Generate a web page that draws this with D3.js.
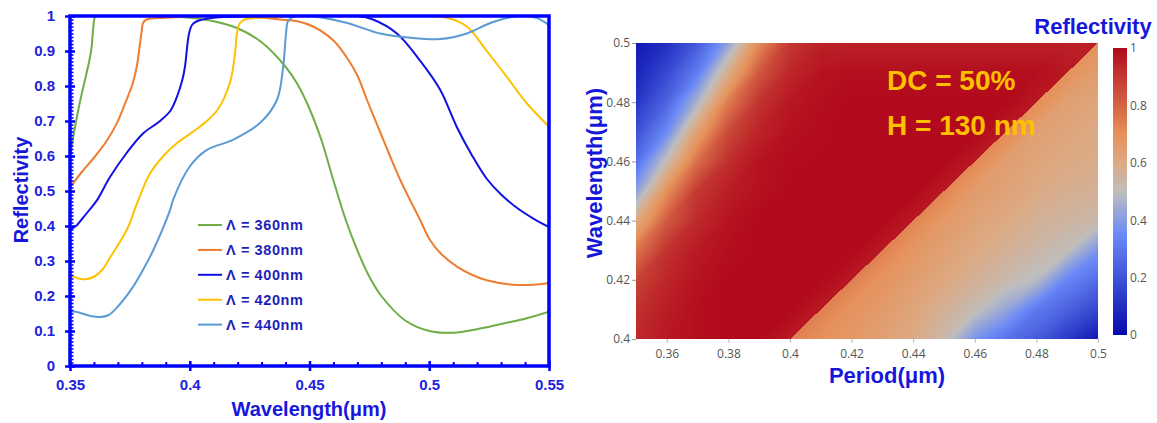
<!DOCTYPE html>
<html lang="en">
  <head>
    <meta charset="utf-8" />
    <title>Reflectivity spectra and reflectivity map</title>
    <script src="https://d3js.org/d3.v7.min.js"></script>
    <style>
      body {
        margin: 0;
        background: #fff;
      }

      svg {
        display: block;
        font-family: Arial, "Liberation Sans", sans-serif;
      }

      .blue-lbl text {
        font-family: Arial, "Liberation Sans", sans-serif;
        font-weight: bold;
        font-size: 15px;
        fill: #2222dd;
      }

      .gray-lbl text {
        font-family: "Open Sans", sans-serif;
        font-size: 12px;
        fill: #555;
      }

      .title {
        font-weight: bold;
        fill: #1717dc;
      }
    </style>
  </head>

  <body>
    <svg id="chart" width="1157" height="423"></svg>

    <script>
      // ---------- left chart: reflectivity spectra ----------
      const wlTicks = [0.35, 0.4, 0.45, 0.5, 0.55];
      const reflTicks = [0, 0.1, 0.2, 0.3, 0.4, 0.5, 0.6, 0.7, 0.8, 0.9, 1];

      const periodLabels = ["Λ = 360nm", "Λ = 380nm", "Λ = 400nm", "Λ = 420nm", "Λ = 440nm"];

      // [wavelength (um), reflectivity]
      const curve360 = [
        [0.35, 0.6], [0.352, 0.68], [0.354, 0.75], [0.356, 0.81], [0.358, 0.87], [0.359, 0.91],
        [0.3595, 0.95], [0.36, 0.985], [0.3605, 0.998], [0.362, 1.0], [0.39, 1.0], [0.4, 0.995],
        [0.41, 0.985], [0.42, 0.965], [0.43, 0.925], [0.44, 0.855], [0.445, 0.805], [0.45, 0.735],
        [0.455, 0.645], [0.46, 0.53], [0.465, 0.42], [0.47, 0.33], [0.475, 0.255], [0.48, 0.2],
        [0.49, 0.13], [0.5, 0.1], [0.51, 0.095], [0.52, 0.105], [0.53, 0.12], [0.54, 0.135],
        [0.55, 0.155],
      ];
      const curve380 = [
        [0.35, 0.51], [0.355, 0.555], [0.36, 0.595], [0.3625, 0.617], [0.365, 0.64], [0.3696, 0.694],
        [0.373, 0.75], [0.3763, 0.81], [0.378, 0.86], [0.3792, 0.92], [0.38, 0.96], [0.3805, 0.98],
        [0.382, 0.99], [0.39, 0.995], [0.41, 1.0], [0.43, 0.995], [0.4377, 0.99], [0.445, 0.985],
        [0.4515, 0.97], [0.46, 0.93], [0.4657, 0.88], [0.47, 0.83], [0.474, 0.76], [0.48, 0.66],
        [0.4836, 0.6], [0.488, 0.53], [0.492, 0.474], [0.496, 0.42], [0.5003, 0.36], [0.505, 0.32],
        [0.5116, 0.284], [0.518, 0.26], [0.524, 0.245], [0.535, 0.232], [0.545, 0.233], [0.55, 0.237],
      ];
      const curve400 = [
        [0.35, 0.39], [0.3525, 0.4], [0.355, 0.42], [0.358, 0.445], [0.3613, 0.474], [0.3667, 0.54],
        [0.3738, 0.61], [0.3806, 0.665], [0.3876, 0.7], [0.392, 0.73], [0.3947, 0.77], [0.397, 0.82],
        [0.398, 0.855], [0.3997, 0.95], [0.401, 0.975], [0.403, 0.985], [0.41, 0.995], [0.43, 1.0],
        [0.47, 1.0], [0.4765, 0.99], [0.4865, 0.95], [0.496, 0.874], [0.5045, 0.79], [0.5115, 0.683],
        [0.518, 0.6], [0.524, 0.535], [0.53, 0.49], [0.537, 0.45], [0.5433, 0.422], [0.55, 0.397],
      ];
      const curve420 = [
        [0.35, 0.26], [0.3535, 0.25], [0.3565, 0.248], [0.36, 0.255], [0.3635, 0.275], [0.3667, 0.31],
        [0.3738, 0.39], [0.378, 0.465], [0.3834, 0.55], [0.389, 0.6], [0.3947, 0.637], [0.4043, 0.684],
        [0.4114, 0.73], [0.4168, 0.81], [0.419, 0.9], [0.4197, 0.95], [0.421, 0.98], [0.423, 0.99],
        [0.43, 0.995], [0.45, 1.0], [0.5, 1.0], [0.5074, 0.995], [0.5157, 0.97], [0.524, 0.9],
        [0.5324, 0.826], [0.5408, 0.75], [0.55, 0.684],
      ];
      const curve440 = [
        [0.35, 0.155], [0.3525, 0.155], [0.355, 0.15], [0.3585, 0.143], [0.3625, 0.14], [0.366, 0.145],
        [0.37, 0.17], [0.3763, 0.226], [0.3805, 0.275], [0.3847, 0.33], [0.3918, 0.446], [0.393, 0.474],
        [0.4, 0.57], [0.407, 0.617], [0.418, 0.646], [0.4293, 0.694], [0.4364, 0.76], [0.439, 0.855],
        [0.4402, 0.95], [0.441, 0.985], [0.443, 0.997], [0.45, 1.0], [0.4657, 0.98], [0.4794, 0.95],
        [0.4932, 0.937], [0.5045, 0.934], [0.5157, 0.95], [0.5266, 0.983], [0.538, 1.0], [0.545, 0.994],
        [0.55, 0.974],
      ];

      // ---------- right chart: reflectivity map ----------
      const periods = [0.35, 0.36, 0.37, 0.38, 0.39, 0.4, 0.41, 0.42, 0.43, 0.44, 0.45, 0.46, 0.47, 0.48, 0.49, 0.5];
      const wavelengths = [0.4, 0.41, 0.42, 0.43, 0.44, 0.45, 0.46, 0.47, 0.48, 0.49, 0.5];
      const periodTicks = [0.36, 0.38, 0.4, 0.42, 0.44, 0.46, 0.48, 0.5];
      const wavelengthTicks = [0.4, 0.42, 0.44, 0.46, 0.48, 0.5];
      const colorbarTicks = [0, 0.2, 0.4, 0.6, 0.8, 1];
      const annotations = ["DC = 50%", "H = 130 nm"];

      // reflectivity, one row per wavelength, one column per period
      // (points on the line wavelength = period hold the value seen just above it)
      const reflGrid = [
        [0.93, 0.97, 0.99, 1.0, 1.0, 0.97, 0.7, 0.67, 0.64, 0.6, 0.53, 0.38, 0.29, 0.22, 0.13, 0.04],
        [0.91, 0.96, 0.99, 1.0, 1.0, 1.0, 0.97, 0.69, 0.66, 0.62, 0.57, 0.52, 0.43, 0.31, 0.24, 0.16],
        [0.87, 0.94, 0.98, 1.0, 1.0, 1.0, 1.0, 0.97, 0.69, 0.65, 0.61, 0.57, 0.53, 0.49, 0.34, 0.27],
        [0.76, 0.91, 0.965, 0.99, 1.0, 1.0, 1.0, 1.0, 0.97, 0.68, 0.64, 0.6, 0.57, 0.54, 0.51, 0.38],
        [0.6, 0.82, 0.93, 0.98, 1.0, 1.0, 1.0, 1.0, 1.0, 0.97, 0.67, 0.63, 0.6, 0.57, 0.55, 0.53],
        [0.41, 0.7, 0.9, 0.955, 0.985, 1.0, 1.0, 1.0, 1.0, 1.0, 0.97, 0.66, 0.63, 0.6, 0.58, 0.57],
        [0.28, 0.52, 0.78, 0.92, 0.98, 0.995, 1.0, 1.0, 1.0, 1.0, 1.0, 0.97, 0.65, 0.62, 0.6, 0.59],
        [0.19, 0.355, 0.645, 0.86, 0.945, 0.985, 0.995, 1.0, 1.0, 1.0, 1.0, 1.0, 0.97, 0.64, 0.62, 0.6],
        [0.12, 0.25, 0.47, 0.75, 0.91, 0.97, 0.99, 1.0, 1.0, 1.0, 1.0, 1.0, 1.0, 0.97, 0.64, 0.62],
        [0.075, 0.17, 0.32, 0.59, 0.83, 0.935, 0.98, 0.99, 0.99, 0.99, 0.99, 0.99, 0.99, 0.99, 0.97, 0.65],
        [0.04, 0.1, 0.22, 0.42, 0.71, 0.9, 0.95, 0.95, 0.95, 0.95, 0.95, 0.95, 0.95, 0.95, 0.95, 0.95],
      ];
      // value just below the wavelength = period line, one per wavelength row
      const edgeBelow = [0.74, 0.74, 0.74, 0.74, 0.73, 0.73, 0.72, 0.72, 0.71, 0.7, 0.69];

      const svg = d3.select("#chart");
      const fmt = d3.format("~g");
      const axisBlue = "#0000ff";

      /////////////////////////
      // left chart

      const x = d3.scaleLinear().domain([0.35, 0.55]).range([70, 549]);
      const y = d3.scaleLinear().domain([0, 1]).range([366, 16]);

      const series = [
        { label: periodLabels[0], points: curve360, color: "#70ad47" },
        { label: periodLabels[1], points: curve380, color: "#ed7d31" },
        { label: periodLabels[2], points: curve400, color: "#1010e8" },
        { label: periodLabels[3], points: curve420, color: "#ffc000" },
        { label: periodLabels[4], points: curve440, color: "#5b9bd5" },
      ];

      const left = svg.append("g");
      left
        .append("clipPath")
        .attr("id", "clip-left")
        .append("rect")
        .attr("x", x.range()[0])
        .attr("y", y.range()[1])
        .attr("width", x.range()[1] - x.range()[0])
        .attr("height", y.range()[0] - y.range()[1]);

      const line = d3
        .line()
        .x((d) => x(d[0]))
        .y((d) => y(d[1]))
        .curve(d3.curveCatmullRom.alpha(0.5));

      left
        .append("g")
        .attr("clip-path", "url(#clip-left)")
        .selectAll("path")
        .data(series)
        .join("path")
        .attr("d", (d) => line(d.points))
        .attr("fill", "none")
        .attr("stroke", (d) => d.color)
        .attr("stroke-width", 2);

      // frame
      left
        .append("rect")
        .attr("x", x.range()[0])
        .attr("y", y.range()[1])
        .attr("width", x.range()[1] - x.range()[0])
        .attr("height", y.range()[0] - y.range()[1])
        .attr("fill", "none")
        .attr("stroke", axisBlue)
        .attr("stroke-width", 3.5);

      function styleTicks(g, width) {
        g.select(".domain").remove();
        g.selectAll(".tick line").attr("stroke", axisBlue).attr("stroke-width", width);
      }

      // y axis: labels + outer ticks, inner major and minor ticks
      left
        .append("g")
        .attr("class", "blue-lbl")
        .attr("transform", `translate(${x.range()[0]},0)`)
        .call(d3.axisLeft(y).tickValues(reflTicks).tickSize(5).tickPadding(10).tickFormat(fmt))
        .call((g) => styleTicks(g, 2.5));
      left
        .append("g")
        .attr("transform", `translate(${x.range()[0]},0)`)
        .call(d3.axisRight(y).tickValues(reflTicks).tickSize(5).tickFormat(""))
        .call((g) => styleTicks(g, 2.5));
      left
        .append("g")
        .attr("transform", `translate(${x.range()[0]},0)`)
        .call(d3.axisRight(y).tickValues(d3.range(0, 1.0001, 0.01)).tickSize(3.5).tickFormat(""))
        .call((g) => styleTicks(g, 1.6));

      // x axis
      left
        .append("g")
        .attr("class", "blue-lbl")
        .attr("transform", `translate(0,${y.range()[0]})`)
        .call(d3.axisBottom(x).tickValues(wlTicks).tickSize(5).tickPadding(8).tickFormat(fmt))
        .call((g) => styleTicks(g, 2.5));
      left
        .append("g")
        .attr("transform", `translate(0,${y.range()[0]})`)
        .call(d3.axisTop(x).tickValues(wlTicks).tickSize(5).tickFormat(""))
        .call((g) => styleTicks(g, 2.5));
      left
        .append("g")
        .attr("transform", `translate(0,${y.range()[0]})`)
        .call(d3.axisTop(x).tickValues(d3.range(0.35, 0.5501, 0.01)).tickSize(4).tickFormat(""))
        .call((g) => styleTicks(g, 2));

      left
        .append("text")
        .attr("class", "title")
        .attr("transform", "translate(28,190) rotate(-90)")
        .attr("text-anchor", "middle")
        .attr("font-size", 20)
        .text("Reflectivity");
      left
        .append("text")
        .attr("class", "title")
        .attr("x", 309)
        .attr("y", 416)
        .attr("text-anchor", "middle")
        .attr("font-size", 20)
        .text("Wavelength(μm)");

      // legend
      const legend = left
        .append("g")
        .selectAll("g")
        .data(series)
        .join("g")
        .attr("transform", (d, i) => `translate(198,${225 + i * 24.9})`);
      legend
        .append("line")
        .attr("x1", 0)
        .attr("x2", 24)
        .attr("stroke", (d) => d.color)
        .attr("stroke-width", 2);
      legend
        .append("text")
        .attr("x", 28)
        .attr("dy", "0.36em")
        .attr("font-size", 14.5)
        .attr("font-weight", "bold")
        .attr("letter-spacing", 0.6)
        .attr("fill", "#1f1fb8")
        .text((d) => d.label);

      /////////////////////////
      // right chart

      const xp = d3.scaleLinear().domain([0.35, 0.5]).range([636, 1098]);
      const yw = d3.scaleLinear().domain([0.4, 0.5]).range([339, 43]);

      const color = d3
        .scaleLinear()
        .domain([0, 0.35, 0.5, 0.6, 0.7, 1])
        .range(["rgb(5,10,172)", "rgb(106,137,247)", "rgb(190,190,190)", "rgb(220,170,132)", "rgb(230,145,90)", "rgb(178,10,28)"])
        .clamp(true);

      // linear interpolation on triangles split along the wavelength = period line
      function fieldValue(p, w) {
        const dp = periods[1] - periods[0];
        const dw = wavelengths[1] - wavelengths[0];
        const fi = (p - periods[0]) / dp;
        const fj = (w - wavelengths[0]) / dw;
        const i = Math.max(0, Math.min(Math.floor(fi), periods.length - 2));
        const j = Math.max(0, Math.min(Math.floor(fj), wavelengths.length - 2));
        const u = fi - i;
        const v = fj - j;
        const below = w < p;
        const node = (a, b) =>
          below && Math.abs(periods[a] - wavelengths[b]) < 1e-9 ? edgeBelow[b] : reflGrid[b][a];
        const a00 = node(i, j);
        const a10 = node(i + 1, j);
        const a01 = node(i, j + 1);
        const a11 = node(i + 1, j + 1);
        if (v >= u) return a00 + u * (a11 - a01) + v * (a01 - a00);
        return a00 + u * (a10 - a00) + v * (a11 - a10);
      }

      const mapW = xp.range()[1] - xp.range()[0];
      const mapH = yw.range()[0] - yw.range()[1];
      const canvas = document.createElement("canvas");
      canvas.width = mapW;
      canvas.height = mapH;
      const ctx = canvas.getContext("2d");
      const img = ctx.createImageData(mapW, mapH);
      for (let py = 0; py < mapH; py++) {
        const w = yw.invert(yw.range()[1] + py + 0.5);
        for (let px = 0; px < mapW; px++) {
          const p = xp.invert(xp.range()[0] + px + 0.5);
          const c = d3.rgb(color(fieldValue(p, w)));
          const k = (py * mapW + px) * 4;
          img.data[k] = c.r;
          img.data[k + 1] = c.g;
          img.data[k + 2] = c.b;
          img.data[k + 3] = 255;
        }
      }
      ctx.putImageData(img, 0, 0);

      const right = svg.append("g");
      right
        .append("image")
        .attr("x", xp.range()[0])
        .attr("y", yw.range()[1])
        .attr("width", mapW)
        .attr("height", mapH)
        .attr("preserveAspectRatio", "none")
        .attr("href", canvas.toDataURL());

      right
        .append("g")
        .attr("class", "gray-lbl")
        .attr("transform", `translate(${xp.range()[0]},0)`)
        .call(d3.axisLeft(yw).tickValues(wavelengthTicks).tickSize(4).tickPadding(2).tickFormat(fmt))
        .call((g) => g.select(".domain").remove())
        .call((g) => g.selectAll(".tick line").attr("stroke", "#999"));
      right
        .append("g")
        .attr("class", "gray-lbl")
        .attr("transform", `translate(0,${yw.range()[0]})`)
        .call(d3.axisBottom(xp).tickValues(periodTicks).tickSize(4).tickPadding(6).tickFormat(fmt))
        .call((g) => g.select(".domain").remove())
        .call((g) => g.selectAll(".tick line").attr("stroke", "#bbb"));

      right
        .append("text")
        .attr("class", "title")
        .attr("transform", "translate(602,173) rotate(-90)")
        .attr("text-anchor", "middle")
        .attr("font-size", 22)
        .text("Wavelength(μm)");
      right
        .append("text")
        .attr("class", "title")
        .attr("x", 887)
        .attr("y", 383)
        .attr("text-anchor", "middle")
        .attr("font-size", 22)
        .text("Period(μm)");

      right
        .selectAll("text.note")
        .data(annotations)
        .join("text")
        .attr("class", "note")
        .attr("x", 887)
        .attr("y", (d, i) => 90 + i * 45)
        .attr("font-size", 28)
        .attr("font-weight", "bold")
        .attr("fill", "#ffc000")
        .text((d) => d);

      // colorbar
      const cb = d3.scaleLinear().domain([0, 1]).range([335, 48]);
      const grad = svg
        .append("defs")
        .append("linearGradient")
        .attr("id", "cb-grad")
        .attr("x1", 0)
        .attr("y1", 1)
        .attr("x2", 0)
        .attr("y2", 0);
      grad
        .selectAll("stop")
        .data(color.domain())
        .join("stop")
        .attr("offset", (d) => d)
        .attr("stop-color", (d) => color(d));
      right
        .append("rect")
        .attr("x", 1113)
        .attr("y", cb.range()[1])
        .attr("width", 14)
        .attr("height", cb.range()[0] - cb.range()[1])
        .attr("fill", "url(#cb-grad)");
      right
        .append("g")
        .attr("class", "gray-lbl")
        .attr("transform", "translate(1127,0)")
        .call(d3.axisRight(cb).tickValues(colorbarTicks).tickSize(0).tickPadding(3).tickFormat(fmt))
        .call((g) => g.select(".domain").remove());

      right
        .append("text")
        .attr("class", "title")
        .attr("x", 1093)
        .attr("y", 34)
        .attr("text-anchor", "middle")
        .attr("font-size", 22)
        .text("Reflectivity");
    </script>
  </body>
</html>
